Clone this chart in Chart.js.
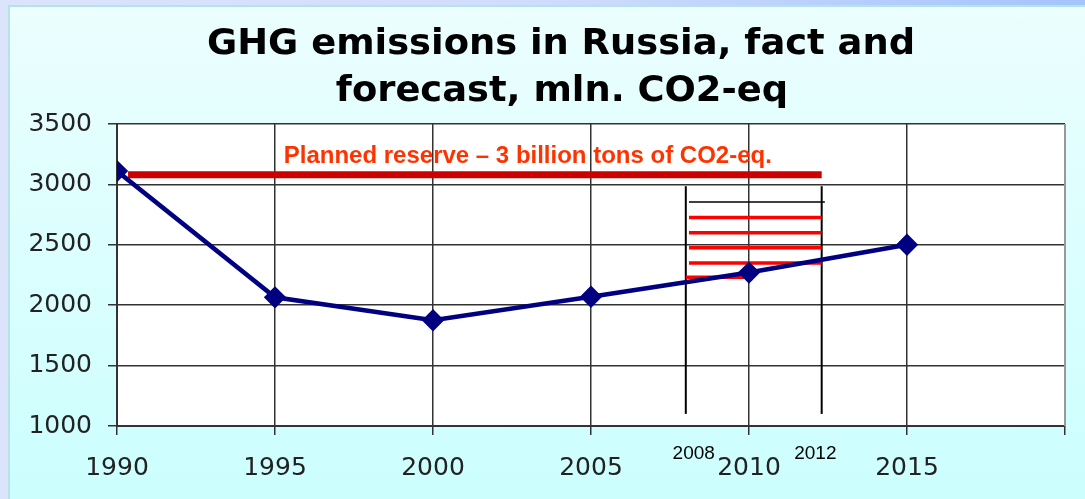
<!DOCTYPE html>
<html>
<head>
<meta charset="utf-8">
<script src="https://cdn.jsdelivr.net/npm/chart.js@4"></script>
<style>
  html, body { margin: 0; padding: 0; }
  body {
    width: 1085px; height: 499px; overflow: hidden;
    background: linear-gradient(to right, #dce4fc 0%, #d0dcfc 50%, #a4c4fc 100%);
  }
  #panel {
    position: absolute; left: 8px; top: 5px; right: 0; bottom: 0;
    border-left: 2px solid #b4e4e4; border-top: 2px solid #b4e4e4;
    background: linear-gradient(to bottom, #ecfefe 0%, #dcfefe 50%, #ccfefe 100%);
  }
  #wrap { position: absolute; left: 0; top: 0; width: 1085px; height: 499px; }
</style>
</head>
<body>
<div id="panel"></div>
<div id="wrap"><canvas id="chart"></canvas></div>
<script>
/** GHG emissions in Russia – fact and forecast */

const years = [1990, 1995, 2000, 2005, 2010, 2015];
const emissions = [3110, 2065, 1875, 2070, 2270, 2500];

const xTicks = { min: 1990, max: 2020, step: 5 };
const yTicks = { min: 1000, max: 3500, step: 500 };

// planned reserve line (approx. 3 bn t)
const reserveX = [1990.35, 2012.3];
const reserveY = 3080;

// Kyoto period marks drawn by hand on the slide
const periodX = [2008, 2012.3];
const periodY = [1100, 2985];
const blackBarY = 2855;
const redBarsY = [2725, 2600, 2475, 2350];
const redBarsX = [2008.1, 2012.3];
const lastRedBar = { x: [2008, 2010], y: 2232 };

const titleLines = ['GHG emissions in Russia, fact and', 'forecast, mln. CO2-eq'];
const reserveLabel = 'Planned reserve \u2013 3 billion tons of CO2-eq.';
const periodLabels = ['2008', '2012'];

const seg = (xs, y) => xs.map(x => ({ x, y }));

const datasets = [
  {
    data: years.map((y, i) => ({ x: y, y: emissions[i] })),
    borderColor: '#000080',
    backgroundColor: '#000080',
    borderWidth: 4.5,
    pointStyle: 'rectRot',
    pointRadius: 8,
    pointHoverRadius: 8,
    order: 0,
  },
  {
    data: seg(reserveX, reserveY),
    borderColor: '#cc0000',
    borderWidth: 7,
    pointRadius: 0,
    order: 5,
  },
  ...periodX.map(x => ({
    data: periodY.map(y => ({ x, y })),
    borderColor: '#000000',
    borderWidth: 2,
    pointRadius: 0,
    order: 4,
  })),
  {
    data: seg([2008.1, 2012.4], blackBarY),
    borderColor: '#000000',
    borderWidth: 1.5,
    pointRadius: 0,
    order: 3,
  },
  ...redBarsY.map(y => ({
    data: seg(redBarsX, y),
    borderColor: '#ff0000',
    borderWidth: 3.5,
    pointRadius: 0,
    order: 2,
  })),
  {
    data: seg(lastRedBar.x, lastRedBar.y),
    borderColor: '#ff0000',
    borderWidth: 3.5,
    pointRadius: 0,
    order: 2,
  },
];

const plotBg = {
  id: 'plotBg',
  beforeDraw(chart) {
    const { ctx, chartArea: a } = chart;
    ctx.save();
    ctx.fillStyle = '#ffffff';
    ctx.fillRect(a.left, a.top, a.right - a.left, a.bottom - a.top);
    ctx.restore();
  },
};

// slight horizontal stretch so the title spans the same width as on the slide
function stretchedText(ctx, text, cx, y, k) {
  ctx.save();
  ctx.translate(cx, y);
  ctx.scale(k, 1);
  ctx.fillText(text, 0, 0);
  ctx.restore();
}

const texts = {
  id: 'texts',
  afterDraw(chart) {
    const { ctx, chartArea: a } = chart;
    const xs = chart.scales.x, ys = chart.scales.y;
    ctx.save();
    // right border of plot
    ctx.strokeStyle = '#999999';
    ctx.lineWidth = 2;
    ctx.beginPath();
    ctx.moveTo(a.right, a.top);
    ctx.lineTo(a.right, a.bottom);
    ctx.stroke();

    ctx.fillStyle = '#000000';
    ctx.textAlign = 'center';
    ctx.textBaseline = 'alphabetic';
    ctx.font = 'bold 36px "DejaVu Sans"';
    const k = 708 / ctx.measureText(titleLines[0]).width;
    stretchedText(ctx, titleLines[0], 561, 54, k);
    stretchedText(ctx, titleLines[1], 562, 101, k);

    ctx.fillStyle = '#ff3300';
    ctx.font = 'bold 24px "Liberation Sans", Arial';
    ctx.fillText(reserveLabel, xs.getPixelForValue(2003.0), ys.getPixelForValue(3175));

    ctx.fillStyle = '#000000';
    ctx.font = '19px "Liberation Sans", Arial';
    ctx.fillText(periodLabels[0], xs.getPixelForValue(2008.25), a.bottom + 33);
    ctx.fillText(periodLabels[1], xs.getPixelForValue(2012.1), a.bottom + 33);
    ctx.restore();
  },
};

new Chart(document.getElementById('chart'), {
  type: 'line',
  data: { datasets },
  options: {
    responsive: true,
    maintainAspectRatio: false,
    animation: false,
    layout: { padding: { top: 124, right: 20, left: 0, bottom: 0 } },
    plugins: {
      legend: { display: false },
      tooltip: { enabled: false },
    },
    scales: {
      x: {
        type: 'linear',
        min: xTicks.min,
        max: xTicks.max,
        ticks: {
          stepSize: xTicks.step,
          padding: 18,
          color: '#222222',
          font: { family: '"DejaVu Sans"', size: 25 },
          callback: v => (v === xTicks.max ? '' : String(v)),
        },
        grid: { color: '#333333', lineWidth: 1.5, tickLength: 9, drawTicks: true },
        border: { color: '#333333', width: 2 },
        afterFit: s => { s.height = 73; },
      },
      y: {
        min: yTicks.min,
        max: yTicks.max,
        ticks: {
          stepSize: yTicks.step,
          padding: 16,
          color: '#222222',
          font: { family: '"DejaVu Sans"', size: 25 },
          callback: v => String(v),
        },
        grid: { color: '#333333', lineWidth: 1.5, tickLength: 9 },
        border: { color: '#333333', width: 2 },
        afterFit: s => { s.width = 117; },
      },
    },
  },
  plugins: [plotBg, texts],
});
</script>
</body>
</html>
